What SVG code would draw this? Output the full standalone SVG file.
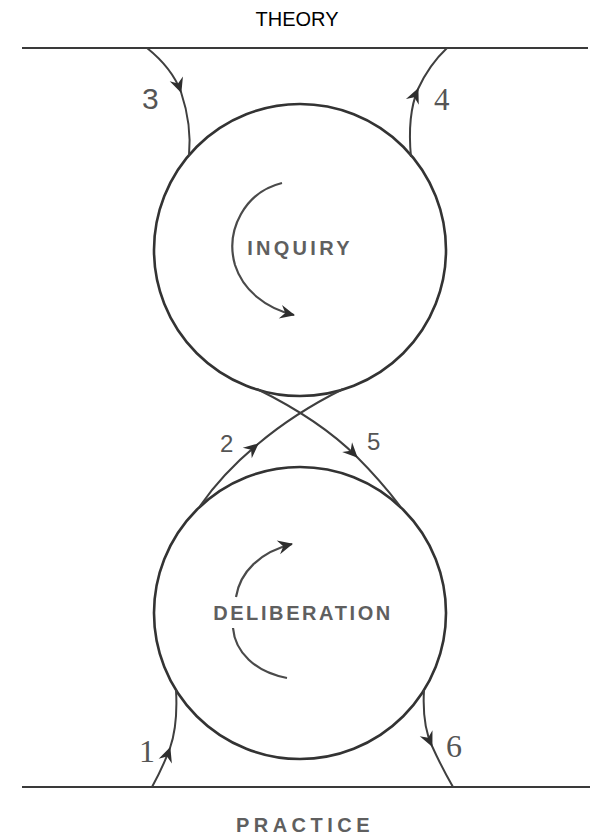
<svg xmlns="http://www.w3.org/2000/svg" width="595" height="837" viewBox="0 0 595 837">
  <style>
    .bg { fill: #ffffff; }
    .rule { stroke: #3a3a3a; stroke-width: 2.2; fill: none; }
    .circle { stroke: #333333; stroke-width: 2.6; fill: none; }
    .conn { stroke: #3f3f3f; stroke-width: 2; fill: none; }
    .rot { stroke: #4a4a4a; stroke-width: 2.2; fill: none; }
    .title { font-family: "Liberation Sans", Arial, sans-serif; font-size: 20px; fill: #000; }
    .label { font-family: "Liberation Sans", Arial, sans-serif; font-size: 20px; font-weight: bold; fill: #5f5f5f; }
    .num { font-family: "Liberation Sans", Arial, sans-serif; fill: #555555; }
    .numserif { font-family: "Liberation Serif", "Times New Roman", serif; fill: #555555; }
  </style>
  <defs>
    <marker id="ah" viewBox="-15 -8 17 16" markerWidth="17" markerHeight="16" refX="0" refY="0" orient="auto" markerUnits="userSpaceOnUse">
      <path d="M1,0 L-14,-7 L-9,0 L-14,7 z" fill="#2e2e2e"/>
    </marker>
  </defs>
  <rect class="bg" x="0" y="0" width="595" height="837"/>

  <g id="theory">
    <text class="title" x="297" y="26" text-anchor="middle">THEORY</text>
    <line class="rule" x1="22" y1="48" x2="588" y2="48"/>
  </g>

  <g id="practice">
    <line class="rule" x1="22" y1="787" x2="590" y2="787"/>
    <text class="label" x="305" y="832" text-anchor="middle" letter-spacing="4.5">PRACTICE</text>
  </g>

  <g id="inquiry">
    <circle class="circle" cx="300" cy="250" r="146"/>
    <path class="rot" d="M282,183 C245,192 225,230 235,265 C243,290 265,308 294,315" marker-end="url(#ah)"/>
    <text class="label" x="300" y="255" text-anchor="middle" letter-spacing="3.3">INQUIRY</text>
  </g>

  <g id="deliberation">
    <circle class="circle" cx="300" cy="613" r="146"/>
    <path class="rot" d="M236,597 C240,572 260,552 292,544" marker-end="url(#ah)"/>
    <path class="rot" d="M287,678 C255,672 235,652 233,628"/>
    <text class="label" x="303" y="620" text-anchor="middle" letter-spacing="2.6">DELIBERATION</text>
  </g>

  <g id="connectors">
    <path id="c3" class="conn" d="M147,48 Q172,68 181,92 Q192,125 189,156" marker-mid="url(#ah)"/>
    <path id="c4" class="conn" d="M411,157 Q407,115 418,89 Q429,65 447,48" marker-mid="url(#ah)"/>
    <path id="c1" class="conn" d="M152,787 Q163,767 170,748 Q178,725 176,690" marker-mid="url(#ah)"/>
    <path id="c6" class="conn" d="M424,690 Q422,725 432,746 Q441,766 453,787" marker-mid="url(#ah)"/>
    <path id="c2" class="conn" d="M200,506 Q223,473 258,444 Q294,413.5 343,389" marker-mid="url(#ah)"/>
    <path id="c5" class="conn" d="M257,389 Q320,420 357,457 Q380,480 400,506" marker-mid="url(#ah)"/>
  </g>

  <g id="numbers">
    <text class="num" x="142" y="109" font-size="30">3</text>
    <text class="numserif" x="434" y="110" font-size="31">4</text>
    <text class="num" x="220" y="452" font-size="24">2</text>
    <text class="num" x="367" y="450" font-size="24">5</text>
    <text class="numserif" x="139" y="762" font-size="32">1</text>
    <text class="numserif" x="446" y="757" font-size="32">6</text>
  </g>
</svg>
